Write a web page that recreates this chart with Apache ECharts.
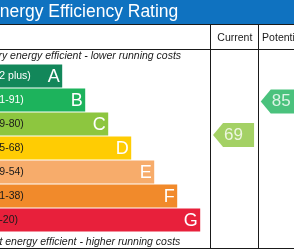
<!DOCTYPE html>
<html><head><meta charset="utf-8">
<script src="https://cdn.jsdelivr.net/npm/echarts/dist/echarts.min.js"></script>
<style>html,body{margin:0;padding:0;background:#fff}#c{width:294px;height:250px}</style>
</head><body><div id="c"></div>
<script>
// ---- data ----
const bands = ['A','B','C','D','E','F','G'];
const bandRanges = ['(92 plus)','(81-91)','(69-80)','(55-68)','(39-54)','(21-38)','(1-20)'];
const bandMin = [92,81,69,55,39,21,1];
const bandMax = [100,91,80,68,54,38,20];
const bandSteps = [1,2,3,4,5,6,7];
const ratingColumns = ['Current','Potential'];
const ratingValues = [69,85];
const titleText = 'Energy Efficiency Rating';
const topNote = 'Very energy efficient - lower running costs';
const bottomNote = 'Not energy efficient - higher running costs';

// ---- style ----
const FONT = '"Liberation Sans", Arial, sans-serif';
const bandColors = ['#12875a','#1db35c','#8dc63f','#ffcc03','#f7ac6b','#f18a2b','#e8203b'];
const rangeTextColors = ['#ffffff','#ffffff','#1a1a1a','#1a1a1a','#1a1a1a','#1a1a1a','#1a1a1a'];
const X_MIN = -2.4, X_MAX = 8;
const lineColor = '#1a1a1a';

const chart = echarts.init(document.getElementById('c'), null, {renderer:'canvas'});

const arrowData = ratingValues.map((v, c) => {
  const idx = bandMin.findIndex((m, k) => v >= m && v <= bandMax[k]);
  const pos = idx + (bandMax[idx] - v) / (bandMax[idx] - bandMin[idx]);
  return {value: [c, pos], rating: v, itemStyle: {color: bandColors[idx]}};
});

function hLine(y){ return {type:'line', z:5, shape:{x1:0,y1:y,x2:294,y2:y}, style:{stroke:lineColor,lineWidth:1}}; }
function vLine(x){ return {type:'line', z:5, shape:{x1:x,y1:24.5,x2:x,y2:248.5}, style:{stroke:lineColor,lineWidth:1}}; }

chart.setOption({
  animation: false,
  backgroundColor: '#ffffff',
  title: [
    {text: titleText, left: -12, top: 3, padding: 0, z: 10,
     textStyle: {color:'#ffffff', fontSize: 17.5, fontWeight:'normal', fontFamily: FONT}},
    {text: topNote, left: -14, top: 51, padding: 0,
     textStyle: {color:'#1a1a1a', fontSize: 10.5, fontStyle:'italic', fontWeight:'normal', fontFamily: FONT}},
    {text: bottomNote, left: -14, top: 237, padding: 0,
     textStyle: {color:'#1a1a1a', fontSize: 10.5, fontStyle:'italic', fontWeight:'normal', fontFamily: FONT}}
  ],
  graphic: [
    {type:'rect', z:1, shape:{x:0,y:0,width:294,height:24.5}, style:{fill:'#0f72c0'}},
    hLine(24.5), hLine(49.5), hLine(248.5), vLine(210.5), vLine(258.5)
  ],
  grid: [
    {left: -16, top: 64, width: (X_MAX - X_MIN) * 23, height: 168, outerBoundsMode: 'none', containLabel: false},
    {left: 211, top: 63, width: 95.4, height: 168, outerBoundsMode: 'none', containLabel: false}
  ],
  xAxis: [
    {gridIndex: 0, type: 'value', min: X_MIN, max: X_MAX, show: false},
    {gridIndex: 1, type: 'category', data: ratingColumns, position: 'top',
     axisLine: {show:false}, axisTick: {show:false}, splitLine: {show:false},
     axisLabel: {margin: 19, fontSize: 10.5, color: '#1a1a1a', fontFamily: FONT, interval: 0}}
  ],
  yAxis: [
    {gridIndex: 0, type: 'category', data: bands, inverse: true, show: false},
    {gridIndex: 1, type: 'value', min: 0, max: 7, inverse: true, show: false}
  ],
  series: [
    {
      type: 'custom', xAxisIndex: 0, yAxisIndex: 0, silent: true,
      data: bandSteps.map((s, i) => [s, i]),
      encode: {x: 0, y: 1},
      renderItem: function (params, api) {
        const i = params.dataIndex;
        const start = api.coord([X_MIN, i]);
        const end = api.coord([api.value(0), i]);
        const h = api.size([0, 1])[1] * 23 / 24;
        return {type: 'group', children: [
          {type: 'rect', shape: {x: start[0], y: end[1] - h / 2, width: end[0] - start[0], height: h},
           style: {fill: bandColors[i]}},
          {type: 'text', style: {text: bandRanges[i], x: start[0] + 6, y: end[1] + 0.5, align: 'left', verticalAlign: 'middle',
            fill: rangeTextColors[i], font: '10.5px ' + FONT}},
          {type: 'text', style: {text: bands[i], x: end[0] - 2.5, y: end[1] + 1, align: 'right', verticalAlign: 'middle',
            fill: '#ffffff', font: '18px ' + FONT}}
        ]};
      }
    },
    {
      type: 'scatter', xAxisIndex: 1, yAxisIndex: 1, silent: true,
      symbol: 'path://M0,12L10,0L41,0L41,24L10,24Z',
      symbolSize: [41, 24], symbolOffset: [-1.3, 0],
      data: arrowData,
      label: {show: true, position: 'inside', color: '#ffffff', fontSize: 17, fontFamily: FONT,
              formatter: p => String(p.data.rating)}
    }
  ]
});
</script></body></html>
